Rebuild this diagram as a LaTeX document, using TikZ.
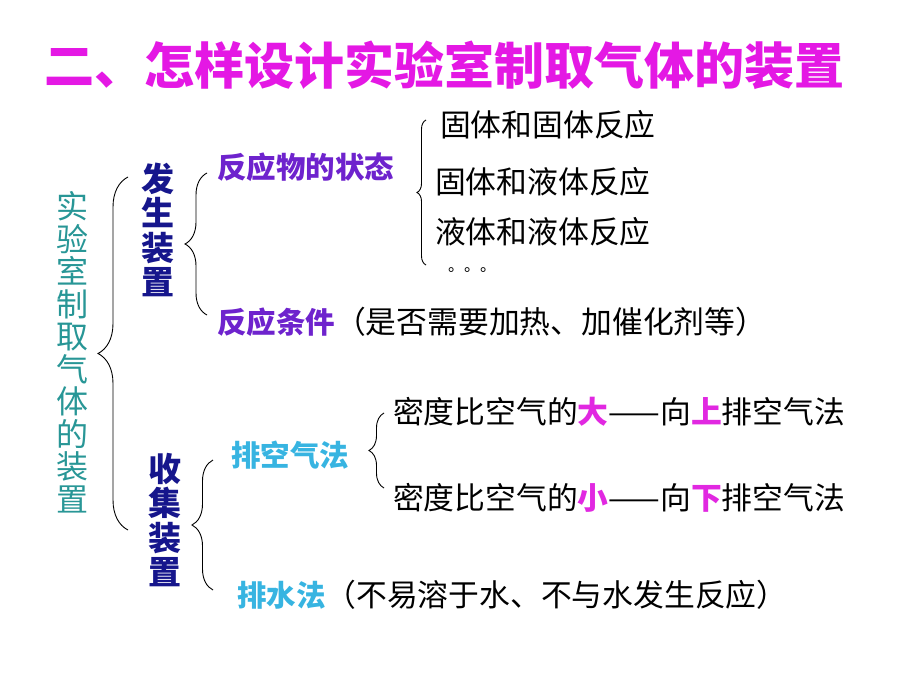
\documentclass[tikz,border=0pt]{standalone}
\usepackage{fontspec}
\newfontfamily\cjk{Noto Sans CJK SC}
\usepackage{xcolor}
\usetikzlibrary{positioning, decorations.pathreplacing}

\definecolor{titlemag}{RGB}{228,24,228}
\definecolor{tealtxt}{RGB}{40,150,150}
\definecolor{deepblue}{RGB}{22,22,140}
\definecolor{violettxt}{RGB}{110,35,205}
\definecolor{skytxt}{RGB}{55,180,225}
\definecolor{hilite}{RGB}{225,40,225}

\begin{document}
\begin{tikzpicture}[x=1pt, y=-1pt,
  every node/.style={inner sep=0pt, outer sep=0pt},
  title/.style={font=\cjk\bfseries\fontsize{50}{50}\selectfont, text=titlemag},
  vert/.style={align=center, font=\cjk\bfseries\fontsize{33}{34.5}\selectfont, text=deepblue},
  head/.style={anchor=west, font=\cjk\bfseries\fontsize{29.5}{29.5}\selectfont},
  txt/.style={anchor=west, font=\cjk\fontsize{30.8}{30.8}\selectfont},
  brc/.style={decorate, decoration={brace, amplitude=#1}, line width=0.9pt},
  brc/.default=12pt]
  \useasboundingbox (0,0) rectangle (920,690);

  % Title
  \node[title] (ttl) at (444,65) {二、怎样设计实验室制取气体的装置};

  % Left column
  \node[align=center, font=\cjk\fontsize{32}{32.5}\selectfont, text=tealtxt] (whole) at (72,352)
    {实\\验\\室\\制\\取\\气\\体\\的\\装\\置};
  \node[vert] (gen) at (158,230) {发\\生\\装\\置};
  \node[vert] (col) at (165,520) {收\\集\\装\\置};

  % Generation branch
  \node[head, text=violettxt] (state) at (217,167) {反应物的状态};
  \node[head, text=violettxt] (cond) at (217,322) {反应条件};
  \node[txt, right=0pt of cond] (condx) {（是否需要加热、加催化剂等）};
  \node[txt] (ss) at (440,125) {固体和固体反应};
  \node[txt] (sl) at (435,182) {固体和液体反应};
  \node[txt] (ll) at (435,232) {液体和液体反应};
  \node[anchor=west, font=\cjk\fontsize{16}{16}\selectfont] (etc) at (448,270) {。。。};

  % Collection branch
  \node[head, text=skytxt] (air) at (231,455) {排空气法};
  \node[txt] (up) at (393,412) {密度比空气的\textcolor{hilite}{\bfseries 大}——向\textcolor{hilite}{\bfseries 上}排空气法};
  \node[txt] (down) at (393,498) {密度比空气的\textcolor{hilite}{\bfseries 小}——向\textcolor{hilite}{\bfseries 下}排空气法};
  \node[head, text=skytxt] (water) at (237,595) {排水法};
  \node[txt, right=0pt of water] (waterx) {（不易溶于水、不与水发生反应）};

  % Braces
  \draw[brc=30pt] (128,530) -- (128,177);
  \draw[brc=22pt] (207,315) -- (207,173);
  \draw[brc=9pt] (426,265) -- (426,120);
  \draw[brc=21pt] (213,590) -- (213,460);
  \draw[brc=15pt] (384,488) -- (384,413);
\end{tikzpicture}
\end{document}
